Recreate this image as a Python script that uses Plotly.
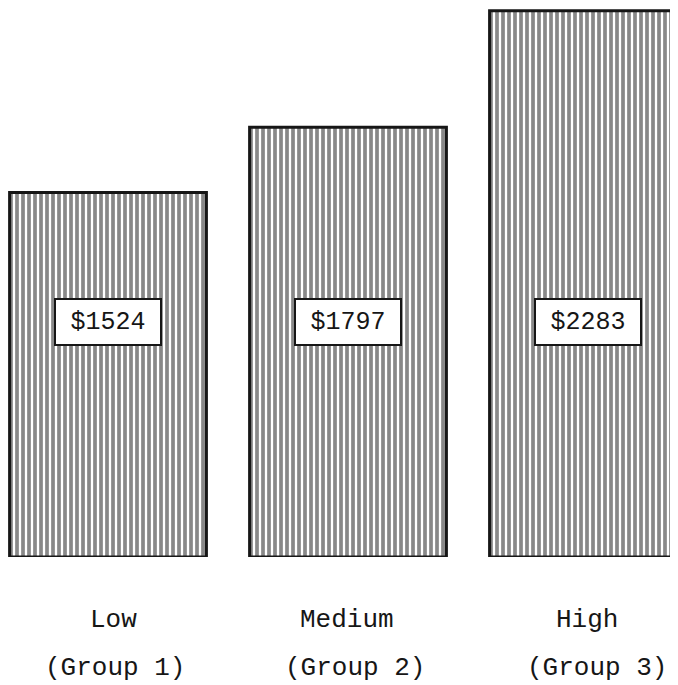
import plotly.graph_objects as go

categories = ["Low", "Medium", "High"]
groups = ["(Group 1)", "(Group 2)", "(Group 3)"]
values = [1524, 1797, 2283]
value_labels = ["$1524", "$1797", "$2283"]

FONT = "Liberation Mono, Courier New, monospace"
INK = "#161616"

cat_shift = [5, -1, -1]
grp_shift = [7, 7, 9]

fig = go.Figure()
fig.add_trace(go.Bar(
    x=list(range(len(categories))),
    y=values,
    width=0.82,
    marker=dict(
        color="white",
        line=dict(color=INK, width=3),
        pattern=dict(shape="|", size=6, solidity=0.62, fgcolor="#111111", bgcolor="white"),
    ),
    hoverinfo="skip",
))

annotations = []
for i, (lab, grp, vl) in enumerate(zip(categories, groups, value_labels)):
    annotations.append(dict(
        x=i, y=982, xref="x", yref="y", text=vl, showarrow=False,
        font=dict(family=FONT, size=25, color=INK),
        bgcolor="white", bordercolor=INK, borderwidth=2, borderpad=7,
        width=90, height=30,
    ))
    annotations.append(dict(
        x=i, y=-0.1148, xref="x", yref="paper", text=lab, showarrow=False,
        yanchor="middle", xshift=cat_shift[i],
        font=dict(family=FONT, size=26, color=INK),
    ))
    annotations.append(dict(
        x=i, y=-0.2022, xref="x", yref="paper", text=grp, showarrow=False,
        yanchor="middle", xshift=grp_shift[i],
        font=dict(family=FONT, size=26, color=INK),
    ))

fig.update_layout(
    width=670, height=677,
    margin=dict(l=0, r=0, t=0, b=128),
    paper_bgcolor="white", plot_bgcolor="white",
    showlegend=False,
    xaxis=dict(range=[-0.4167, 2.375], visible=False),
    yaxis=dict(range=[0, 2295], visible=False),
    annotations=annotations,
)

fig.write_html("out.html")
